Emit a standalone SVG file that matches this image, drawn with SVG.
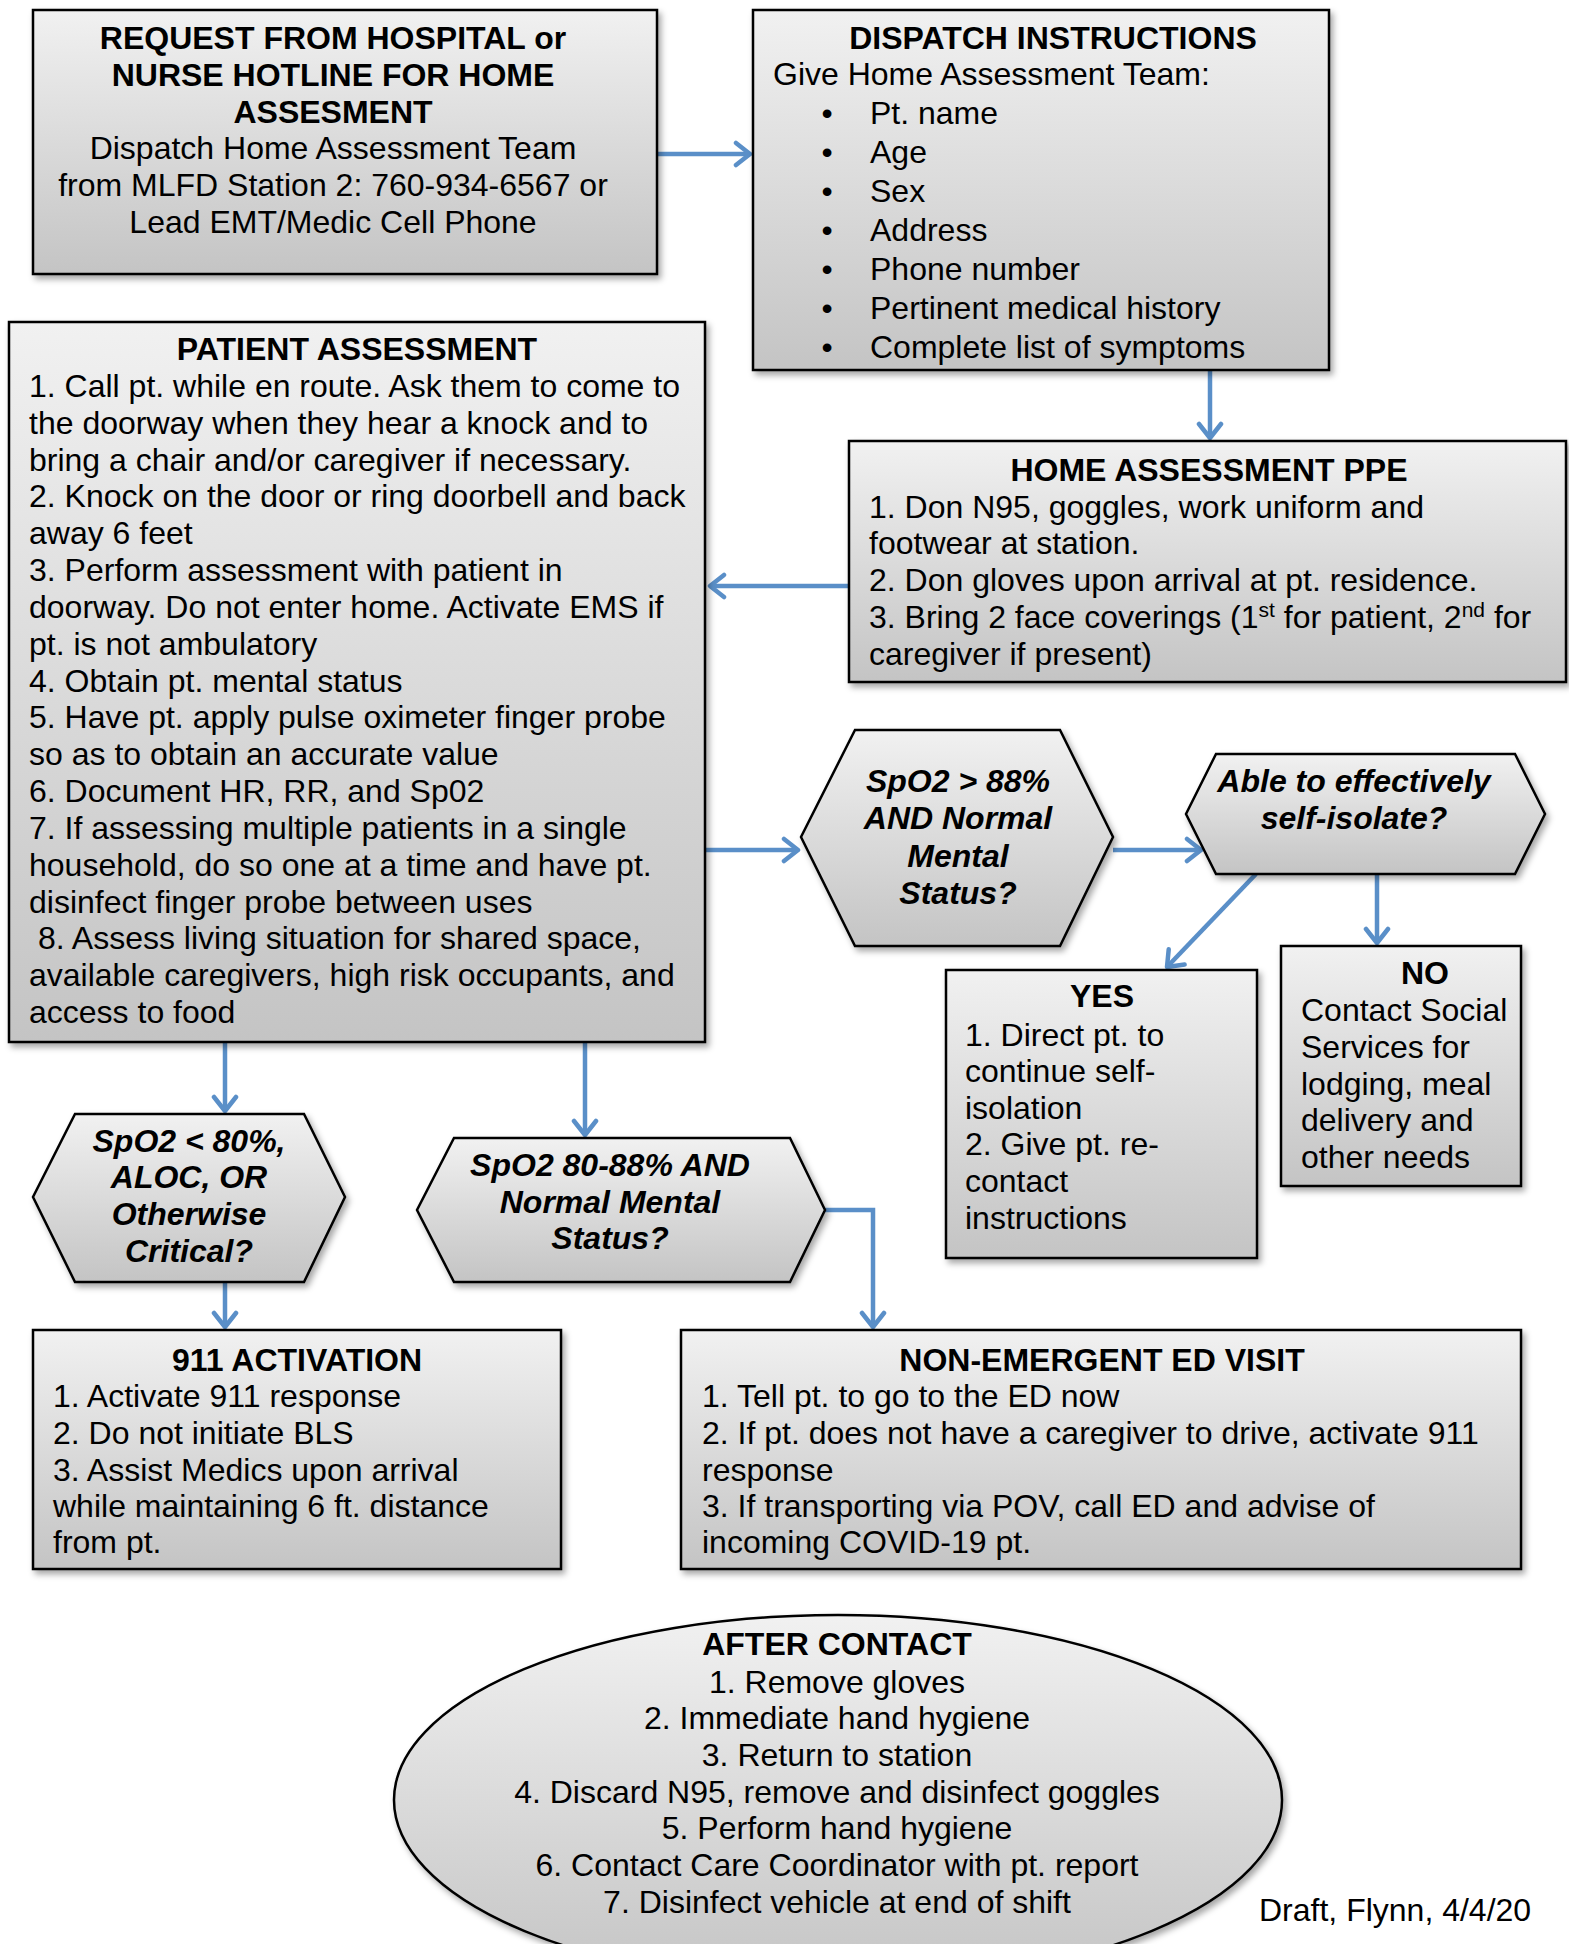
<svg xmlns="http://www.w3.org/2000/svg" width="1569" height="1944" viewBox="0 0 1569 1944">
<defs>
<linearGradient id="g" x1="0" y1="0" x2="0" y2="1">
<stop offset="0" stop-color="#F1F1F1"/>
<stop offset="1" stop-color="#C4C4C4"/>
</linearGradient>
<filter id="sh" x="-5%" y="-5%" width="115%" height="120%">
<feDropShadow dx="3" dy="4" stdDeviation="3" flood-color="#000" flood-opacity="0.35"/>
</filter>
<marker id="ah" markerUnits="userSpaceOnUse" viewBox="-18 -14 22 28" markerWidth="22" markerHeight="28" refX="0" refY="0" orient="auto">
<path d="M-14,-11 L0,0 L-14,11" fill="none" stroke="#5A8FC8" stroke-width="4.5" stroke-linecap="round" stroke-linejoin="round"/>
</marker>
<style>
.box{fill:url(#g);stroke:#000;stroke-width:2.5;filter:url(#sh)}
text{font-family:"Liberation Sans",Arial,sans-serif;font-size:32px;fill:#000}
.h{font-weight:bold;text-anchor:middle}
.c{text-anchor:middle}
.q{font-weight:bold;font-style:italic;text-anchor:middle}
.con{fill:none;stroke:#5A8FC8;stroke-width:4.5;marker-end:url(#ah)}
</style>
</defs>
<rect width="1569" height="1944" fill="#fff"/>

<g id="connectors">
<line class="con" x1="657" y1="154" x2="750" y2="154"/>
<line class="con" x1="1210" y1="370" x2="1210" y2="438"/>
<line class="con" x1="849" y1="586" x2="710" y2="586"/>
<line class="con" x1="705" y1="850" x2="798" y2="850"/>
<line class="con" x1="1113" y1="850" x2="1201" y2="850"/>
<line class="con" x1="1256" y1="874" x2="1167" y2="967"/>
<line class="con" x1="1377" y1="874" x2="1377" y2="943"/>
<line class="con" x1="225" y1="1042" x2="225" y2="1111"/>
<line class="con" x1="585" y1="1042" x2="585" y2="1135"/>
<line class="con" x1="225" y1="1282" x2="225" y2="1327"/>
<polyline class="con" points="825,1210 873,1210 873,1327"/>
</g>

<g id="request">
<rect class="box" x="33" y="10" width="624" height="264"/>
<text class="h" x="333" y="49">REQUEST FROM HOSPITAL or</text>
<text class="h" x="333" y="86">NURSE HOTLINE FOR HOME</text>
<text class="h" x="333" y="123">ASSESMENT</text>
<text class="c" x="333" y="159">Dispatch Home Assessment Team</text>
<text class="c" x="333" y="196">from MLFD Station 2: 760-934-6567 or</text>
<text class="c" x="333" y="233">Lead EMT/Medic Cell Phone</text>
</g>

<g id="dispatch">
<rect class="box" x="753" y="10" width="576" height="360"/>
<text class="h" x="1053" y="49">DISPATCH INSTRUCTIONS</text>
<text x="773" y="85">Give Home Assessment Team:</text>
<g class="c">
<text class="c" x="827" y="124">•</text>
<text class="c" x="827" y="163">•</text>
<text class="c" x="827" y="202">•</text>
<text class="c" x="827" y="241">•</text>
<text class="c" x="827" y="280">•</text>
<text class="c" x="827" y="319">•</text>
<text class="c" x="827" y="358">•</text>
</g>
<text x="870" y="124">Pt. name</text>
<text x="870" y="163">Age</text>
<text x="870" y="202">Sex</text>
<text x="870" y="241">Address</text>
<text x="870" y="280">Phone number</text>
<text x="870" y="319">Pertinent medical history</text>
<text x="870" y="358">Complete list of symptoms</text>
</g>

<g id="ppe">
<rect class="box" x="849" y="441" width="717" height="241"/>
<text class="h" x="1209" y="481">HOME ASSESSMENT PPE</text>
<text x="869" y="518">1. Don N95, goggles, work uniform and</text>
<text x="869" y="554">footwear at station.</text>
<text x="869" y="591">2. Don gloves upon arrival at pt. residence.</text>
<text x="869" y="628">3. Bring 2 face coverings (1<tspan font-size="21" dy="-11">st</tspan><tspan dy="11"> for patient, 2</tspan><tspan font-size="21" dy="-11">nd</tspan><tspan dy="11"> for</tspan></text>
<text x="869" y="665">caregiver if present)</text>
</g>

<g id="patient-assessment">
<rect class="box" x="9" y="322" width="696" height="720"/>
<text class="h" x="357" y="360">PATIENT ASSESSMENT</text>
<text x="29" y="397">1. Call pt. while en route. Ask them to come to</text>
<text x="29" y="434">the doorway when they hear a knock and to</text>
<text x="29" y="471">bring a chair and/or caregiver if necessary.</text>
<text x="29" y="507">2. Knock on the door or ring doorbell and back</text>
<text x="29" y="544">away 6 feet</text>
<text x="29" y="581">3. Perform assessment with patient in</text>
<text x="29" y="618">doorway. Do not enter home. Activate EMS if</text>
<text x="29" y="655">pt. is not ambulatory</text>
<text x="29" y="692">4. Obtain pt. mental status</text>
<text x="29" y="728">5. Have pt. apply pulse oximeter finger probe</text>
<text x="29" y="765">so as to obtain an accurate value</text>
<text x="29" y="802">6. Document HR, RR, and Sp02</text>
<text x="29" y="839">7. If assessing multiple patients in a single</text>
<text x="29" y="876">household, do so one at a time and have pt.</text>
<text x="29" y="913">disinfect finger probe between uses</text>
<text x="38" y="949">8. Assess living situation for shared space,</text>
<text x="29" y="986">available caregivers, high risk occupants, and</text>
<text x="29" y="1023">access to food</text>
</g>

<g id="q-spo2-88">
<polygon class="box" points="855,730 1060,730 1113,837 1060,946 855,946 801,837"/>
<text class="q" x="958" y="792">SpO2 &gt; 88%</text>
<text class="q" x="958" y="829">AND Normal</text>
<text class="q" x="958" y="867">Mental</text>
<text class="q" x="958" y="904">Status?</text>
</g>

<g id="q-isolate">
<polygon class="box" points="1216,754 1515,754 1545,814 1515,874 1216,874 1186,814"/>
<text class="q" x="1354" y="792">Able to effectively</text>
<text class="q" x="1354" y="829">self-isolate?</text>
</g>

<g id="yes">
<rect class="box" x="946" y="970" width="311" height="288"/>
<text class="h" x="1102" y="1007">YES</text>
<text x="965" y="1046">1. Direct pt. to</text>
<text x="965" y="1082">continue self-</text>
<text x="965" y="1119">isolation</text>
<text x="965" y="1155">2. Give pt. re-</text>
<text x="965" y="1192">contact</text>
<text x="965" y="1229">instructions</text>
</g>

<g id="no">
<rect class="box" x="1281" y="946" width="240" height="240"/>
<text class="h" x="1425" y="984">NO</text>
<text x="1301" y="1021">Contact Social</text>
<text x="1301" y="1058">Services for</text>
<text x="1301" y="1095">lodging, meal</text>
<text x="1301" y="1131">delivery and</text>
<text x="1301" y="1168">other needs</text>
</g>

<g id="q-critical">
<polygon class="box" points="75,1114 304,1114 345,1197 304,1282 75,1282 33,1197"/>
<text class="q" x="189" y="1152">SpO2 &lt; 80%,</text>
<text class="q" x="189" y="1188">ALOC, OR</text>
<text class="q" x="189" y="1225">Otherwise</text>
<text class="q" x="189" y="1262">Critical?</text>
</g>

<g id="q-spo2-80-88">
<polygon class="box" points="454,1138 790,1138 825,1210 790,1282 454,1282 417,1210"/>
<text class="q" x="610" y="1176">SpO2 80-88% AND</text>
<text class="q" x="610" y="1213">Normal Mental</text>
<text class="q" x="610" y="1249">Status?</text>
</g>

<g id="activation-911">
<rect class="box" x="33" y="1330" width="528" height="239"/>
<text class="h" x="297" y="1371">911 ACTIVATION</text>
<text x="53" y="1407">1. Activate 911 response</text>
<text x="53" y="1444">2. Do not initiate BLS</text>
<text x="53" y="1481">3. Assist Medics upon arrival</text>
<text x="53" y="1517">while maintaining 6 ft. distance</text>
<text x="53" y="1553">from pt.</text>
</g>

<g id="non-emergent">
<rect class="box" x="681" y="1330" width="840" height="239"/>
<text class="h" x="1102" y="1371">NON-EMERGENT ED VISIT</text>
<text x="702" y="1407">1. Tell pt. to go to the ED now</text>
<text x="702" y="1444">2. If pt. does not have a caregiver to drive, activate 911</text>
<text x="702" y="1481">response</text>
<text x="702" y="1517">3. If transporting via POV, call ED and advise of</text>
<text x="702" y="1553">incoming COVID-19 pt.</text>
</g>

<g id="after-contact">
<ellipse class="box" cx="838" cy="1800" rx="444" ry="185"/>
<text class="h" x="837" y="1655">AFTER CONTACT</text>
<text class="c" x="837" y="1693">1. Remove gloves</text>
<text class="c" x="837" y="1729">2. Immediate hand hygiene</text>
<text class="c" x="837" y="1766">3. Return to station</text>
<text class="c" x="837" y="1803">4. Discard N95, remove and disinfect goggles</text>
<text class="c" x="837" y="1839">5. Perform hand hygiene</text>
<text class="c" x="837" y="1876">6. Contact Care Coordinator with pt. report</text>
<text class="c" x="837" y="1913">7. Disinfect vehicle at end of shift</text>
</g>

<g id="footer">
<text x="1259" y="1921">Draft, Flynn, 4/4/20</text>
</g>
</svg>
